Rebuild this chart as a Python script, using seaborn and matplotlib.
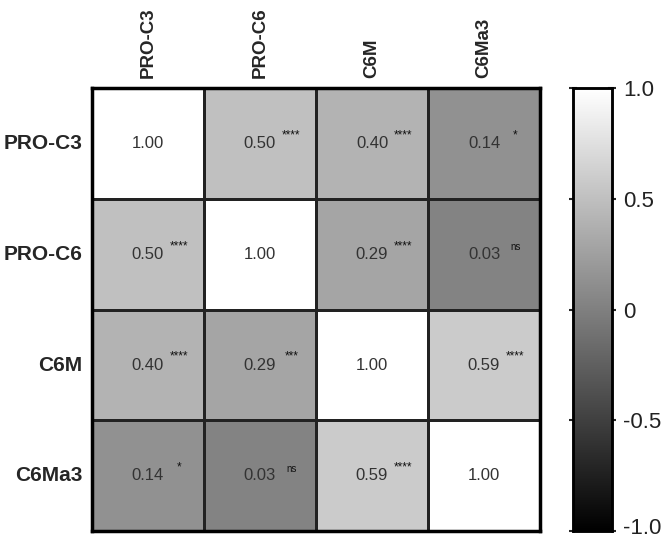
import numpy as np
import pandas as pd
import seaborn as sns
import matplotlib.transforms as mtransforms
from matplotlib import pyplot as plt

labels = ["PRO-C3", "PRO-C6", "C6M", "C6Ma3"]
corr_values = [
    [1.00, 0.50, 0.40, 0.14],
    [0.50, 1.00, 0.29, 0.03],
    [0.40, 0.29, 1.00, 0.59],
    [0.14, 0.03, 0.59, 1.00],
]
significance = [
    ["", "****", "****", "*"],
    ["****", "", "****", "ns"],
    ["****", "***", "", "****"],
    ["*", "ns", "****", ""],
]
cbar_ticks = [1.0, 0.5, 0, -0.5, -1.0]
cbar_ticklabels = ["1.0", "0.5", "0", "-0.5", "-1.0"]

sns.set_style("white")
plt.rcParams["font.family"] = ["Liberation Sans", "DejaVu Sans"]

corr = pd.DataFrame(corr_values, index=labels, columns=labels)

fig = plt.figure(figsize=(6.68, 5.41), dpi=100)
ax = fig.add_axes([0.1377, 0.018, 0.6707, 0.819])
cax = fig.add_axes([0.858, 0.018, 0.058, 0.819])

sns.heatmap(corr, ax=ax, cbar_ax=cax, cmap="gray", vmin=-1, vmax=1,
            annot=True, fmt=".2f", annot_kws={"fontsize": 12, "color": "#333333"},
            linewidths=0.8, linecolor="#222222", square=False)

# significance stars
for i in range(len(labels)):
    for j in range(len(labels)):
        s = significance[i][j]
        if s:
            ax.text(j + 0.78, i + 0.48, s, ha="center", va="bottom",
                    fontsize=7 if s == "ns" else 8.5, color="#111111")

ax.xaxis.tick_top()
ax.set_xticklabels(labels, rotation=90, fontsize=13.5, fontweight="bold")
ax.set_yticklabels(labels, rotation=0, fontsize=15, fontweight="bold")
ax.tick_params(length=0, pad=7)
ax.set_xlabel("")
ax.set_ylabel("")
for spine in ax.spines.values():
    spine.set_visible(True)
    spine.set_linewidth(2.5)
    spine.set_color("black")

cax.set_yticks(cbar_ticks)
cax.set_yticklabels(cbar_ticklabels, fontsize=16, color="#222222")
cax.tick_params(direction="inout", left=True, right=True, length=6, width=1.5, pad=5)
for spine in cax.spines.values():
    spine.set_visible(True)
    spine.set_linewidth(1.8)
    spine.set_color("black")

# keep the lowest colorbar label inside the figure
lowest = [t for t in cax.get_yticklabels() if t.get_text() == "-1.0"][0]
lowest.set_transform(lowest.get_transform() +
                     mtransforms.ScaledTranslation(0, 4 / 72, fig.dpi_scale_trans))

fig.savefig("out.png", dpi=100)
